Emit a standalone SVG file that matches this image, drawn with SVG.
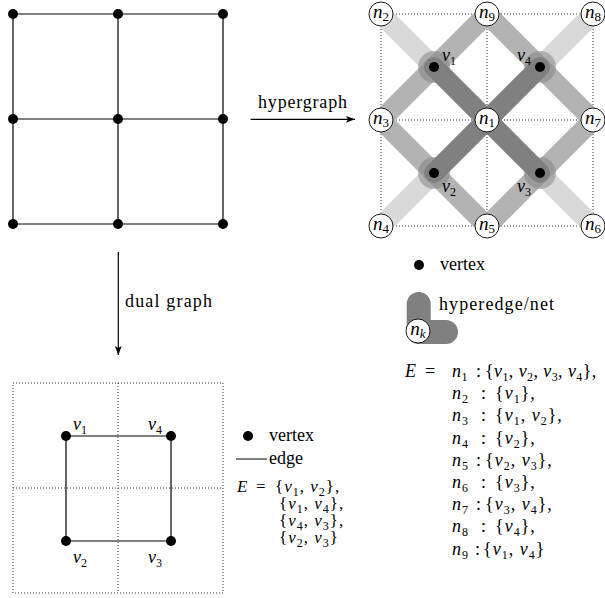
<svg xmlns="http://www.w3.org/2000/svg" width="605" height="598" viewBox="0 0 605 598">
<style>
.t{font-family:"Liberation Serif","Times New Roman",serif;font-size:18px;fill:#000}
.m{font-family:"Liberation Serif","Times New Roman",serif;font-size:18px;fill:#000;letter-spacing:1px}
.md{font-family:"Liberation Serif","Times New Roman",serif;font-size:17px;fill:#000;letter-spacing:1px}
.nl{font-family:"Liberation Serif","Times New Roman",serif;font-size:19px;fill:#000}
.i{font-style:italic}
.s{font-size:12px}
.s13{font-size:13px}
.dot{fill:#000}
.edge{stroke:#000;stroke-width:1.2;fill:none}
.dotted{stroke:#000;stroke-width:0.8;stroke-dasharray:1 2;fill:none}
.band{fill:none;stroke-width:20;stroke-linecap:round;stroke-linejoin:round}
.light{stroke:#d9d9d9}
.med{stroke:#b3b3b3}
.dark{stroke:#808080}
.halo{fill:#808080;fill-opacity:0.5}
.nc{fill:#fff;stroke:#000;stroke-width:0.9}
.arrow{stroke:#000;stroke-width:1.2;fill:none;marker-end:url(#ah)}
</style>
<defs>
<marker id="ah" markerWidth="10" markerHeight="8" refX="9" refY="4" orient="auto" markerUnits="userSpaceOnUse">
<path d="M0,0.6 L9,4 L0,7.4 L2,4 Z" fill="#000"/>
</marker>
</defs>

<!-- ===== Top-left grid graph ===== -->
<g id="grid-edges" class="connectors">
<path class="edge" d="M13,14 H223 M13,119 H223 M13,224 H223 M13,14 V224 M118,14 V224 M223,14 V224"/>
</g>
<g id="g11"><circle class="dot" cx="13" cy="14" r="5"/></g>
<g id="g12"><circle class="dot" cx="118" cy="14" r="5"/></g>
<g id="g13"><circle class="dot" cx="223" cy="14" r="5"/></g>
<g id="g21"><circle class="dot" cx="13" cy="119" r="5"/></g>
<g id="g22"><circle class="dot" cx="118" cy="119" r="5"/></g>
<g id="g23"><circle class="dot" cx="223" cy="119" r="5"/></g>
<g id="g31"><circle class="dot" cx="13" cy="224" r="5"/></g>
<g id="g32"><circle class="dot" cx="118" cy="224" r="5"/></g>
<g id="g33"><circle class="dot" cx="223" cy="224" r="5"/></g>

<!-- ===== Arrows ===== -->
<g id="arrows" class="connectors">
<line class="arrow" x1="250.7" y1="119.3" x2="355" y2="119.3"/>
<line class="arrow" x1="118.3" y1="252" x2="118.3" y2="355"/>
</g>
<text class="t" x="302.5" y="108" text-anchor="middle" textLength="89">hypergraph</text>
<text class="t" x="125" y="307" textLength="87">dual graph</text>

<!-- ===== Hypergraph ===== -->
<g id="hg-grid">
<path class="dotted" d="M381,14 H593 M381,120 H593 M381,226 H593 M381,14 V226 M487,14 V226 M593,14 V226"/>
</g>
<g id="hyperedges" class="connectors">
<path class="band light" d="M381,14 L434,67"/>
<path class="band light" d="M593,14 L540,67"/>
<path class="band light" d="M381,226 L434,173"/>
<path class="band light" d="M593,226 L540,173"/>
<path class="band med" d="M434,67 L381,120 L434,173"/>
<path class="band med" d="M434,67 L487,14 L540,67"/>
<path class="band med" d="M540,67 L593,120 L540,173"/>
<path class="band med" d="M434,173 L487,226 L540,173"/>
<path class="band dark" d="M434,67 L540,173 M540,67 L434,173"/>
</g>
<g id="v1"><circle class="halo" cx="434" cy="67" r="16"/><circle class="dot" cx="434" cy="67" r="5"/>
<text class="t" x="442" y="61"><tspan class="i">v</tspan><tspan class="s" dy="4">1</tspan></text></g>
<g id="v4"><circle class="halo" cx="540" cy="67" r="16"/><circle class="dot" cx="540" cy="67" r="5"/>
<text class="t" x="517" y="61"><tspan class="i">v</tspan><tspan class="s" dy="4">4</tspan></text></g>
<g id="v2"><circle class="halo" cx="434" cy="173" r="16"/><circle class="dot" cx="434" cy="173" r="5"/>
<text class="t" x="442" y="192"><tspan class="i">v</tspan><tspan class="s" dy="4">2</tspan></text></g>
<g id="v3"><circle class="halo" cx="540" cy="173" r="16"/><circle class="dot" cx="540" cy="173" r="5"/>
<text class="t" x="517" y="192"><tspan class="i">v</tspan><tspan class="s" dy="4">3</tspan></text></g>

<g id="n2"><circle class="nc" cx="381" cy="14" r="12"/><text class="nl" x="381" y="18" text-anchor="middle"><tspan class="i">n</tspan><tspan class="s13" dy="3">2</tspan></text></g>
<g id="n9"><circle class="nc" cx="487" cy="14" r="12"/><text class="nl" x="487" y="18" text-anchor="middle"><tspan class="i">n</tspan><tspan class="s13" dy="3">9</tspan></text></g>
<g id="n8"><circle class="nc" cx="593" cy="14" r="12"/><text class="nl" x="593" y="18" text-anchor="middle"><tspan class="i">n</tspan><tspan class="s13" dy="3">8</tspan></text></g>
<g id="n3"><circle class="nc" cx="381" cy="120" r="12"/><text class="nl" x="381" y="124" text-anchor="middle"><tspan class="i">n</tspan><tspan class="s13" dy="3">3</tspan></text></g>
<g id="n1"><circle class="nc" cx="487" cy="120" r="12"/><text class="nl" x="487" y="124" text-anchor="middle"><tspan class="i">n</tspan><tspan class="s13" dy="3">1</tspan></text></g>
<g id="n7"><circle class="nc" cx="593" cy="120" r="12"/><text class="nl" x="593" y="124" text-anchor="middle"><tspan class="i">n</tspan><tspan class="s13" dy="3">7</tspan></text></g>
<g id="n4"><circle class="nc" cx="381" cy="226" r="12"/><text class="nl" x="381" y="230" text-anchor="middle"><tspan class="i">n</tspan><tspan class="s13" dy="3">4</tspan></text></g>
<g id="n5"><circle class="nc" cx="487" cy="226" r="12"/><text class="nl" x="487" y="230" text-anchor="middle"><tspan class="i">n</tspan><tspan class="s13" dy="3">5</tspan></text></g>
<g id="n6"><circle class="nc" cx="593" cy="226" r="12"/><text class="nl" x="593" y="230" text-anchor="middle"><tspan class="i">n</tspan><tspan class="s13" dy="3">6</tspan></text></g>

<!-- ===== Hypergraph legend ===== -->
<g id="legend-hg">
<circle class="dot" cx="419" cy="265" r="5"/>
<text class="t" x="440" y="270">vertex</text>
<path d="M418.7,304 V332 H446" fill="none" stroke="#808080" stroke-width="24" stroke-linecap="round" stroke-linejoin="round"/>
<circle class="nc" cx="418" cy="331" r="12"/>
<text class="nl" x="418" y="335" text-anchor="middle"><tspan class="i">n</tspan><tspan class="s13 i" dy="3">k</tspan></text>
<text class="t" x="439" y="310" textLength="115">hyperedge/net</text>
</g>

<!-- ===== Hypergraph edge set ===== -->
<g id="eset-hg">
<text class="m" y="377"><tspan x="405" class="i">E</tspan><tspan x="425">=</tspan></text>
<text class="m" y="377" style="letter-spacing:0.4px"><tspan x="452" class="i">n</tspan><tspan class="s" dy="4">1</tspan><tspan x="476" dy="-4">:</tspan><tspan x="485">{</tspan><tspan class="i">v</tspan><tspan class="s" dy="4">1</tspan><tspan dy="-4">, </tspan><tspan class="i">v</tspan><tspan class="s" dy="4">2</tspan><tspan dy="-4">, </tspan><tspan class="i">v</tspan><tspan class="s" dy="4">3</tspan><tspan dy="-4">, </tspan><tspan class="i">v</tspan><tspan class="s" dy="4">4</tspan><tspan dy="-4">},</tspan></text>
<text class="m" y="399"><tspan x="452" class="i">n</tspan><tspan class="s" dy="4">2</tspan><tspan x="481" dy="-4">:</tspan><tspan x="495">{</tspan><tspan class="i">v</tspan><tspan class="s" dy="4">1</tspan><tspan dy="-4">},</tspan></text>
<text class="m" y="421"><tspan x="452" class="i">n</tspan><tspan class="s" dy="4">3</tspan><tspan x="481" dy="-4">:</tspan><tspan x="495">{</tspan><tspan class="i">v</tspan><tspan class="s" dy="4">1</tspan><tspan dy="-4">, </tspan><tspan class="i">v</tspan><tspan class="s" dy="4">2</tspan><tspan dy="-4">},</tspan></text>
<text class="m" y="443.5"><tspan x="452" class="i">n</tspan><tspan class="s" dy="4">4</tspan><tspan x="481" dy="-4">:</tspan><tspan x="495">{</tspan><tspan class="i">v</tspan><tspan class="s" dy="4">2</tspan><tspan dy="-4">},</tspan></text>
<text class="m" y="466"><tspan x="452" class="i">n</tspan><tspan class="s" dy="4">5</tspan><tspan x="476" dy="-4">:</tspan><tspan x="485">{</tspan><tspan class="i">v</tspan><tspan class="s" dy="4">2</tspan><tspan dy="-4">, </tspan><tspan class="i">v</tspan><tspan class="s" dy="4">3</tspan><tspan dy="-4">},</tspan></text>
<text class="m" y="488"><tspan x="452" class="i">n</tspan><tspan class="s" dy="4">6</tspan><tspan x="481" dy="-4">:</tspan><tspan x="495">{</tspan><tspan class="i">v</tspan><tspan class="s" dy="4">3</tspan><tspan dy="-4">},</tspan></text>
<text class="m" y="510"><tspan x="452" class="i">n</tspan><tspan class="s" dy="4">7</tspan><tspan x="476" dy="-4">:</tspan><tspan x="485">{</tspan><tspan class="i">v</tspan><tspan class="s" dy="4">3</tspan><tspan dy="-4">, </tspan><tspan class="i">v</tspan><tspan class="s" dy="4">4</tspan><tspan dy="-4">},</tspan></text>
<text class="m" y="532"><tspan x="452" class="i">n</tspan><tspan class="s" dy="4">8</tspan><tspan x="481" dy="-4">:</tspan><tspan x="495">{</tspan><tspan class="i">v</tspan><tspan class="s" dy="4">4</tspan><tspan dy="-4">},</tspan></text>
<text class="m" y="554.5"><tspan x="452" class="i">n</tspan><tspan class="s" dy="4">9</tspan><tspan x="475" dy="-4">:</tspan><tspan x="483">{</tspan><tspan class="i">v</tspan><tspan class="s" dy="4">1</tspan><tspan dy="-4">, </tspan><tspan class="i">v</tspan><tspan class="s" dy="4">4</tspan><tspan dy="-4">}</tspan></text>
</g>

<!-- ===== Dual graph ===== -->
<g id="dual-grid">
<path class="dotted" d="M13,383 H223 V593 H13 Z M118,383 V593 M13,488 H223"/>
</g>
<g id="dual-edges" class="connectors">
<path class="edge" d="M66,436 H171 V541 H66 Z"/>
</g>
<g id="d-v1"><circle class="dot" cx="66" cy="436" r="5"/><text class="t" x="73" y="430"><tspan class="i">v</tspan><tspan class="s" dy="4">1</tspan></text></g>
<g id="d-v4"><circle class="dot" cx="171" cy="436" r="5"/><text class="t" x="148" y="430"><tspan class="i">v</tspan><tspan class="s" dy="4">4</tspan></text></g>
<g id="d-v2"><circle class="dot" cx="66" cy="541" r="5"/><text class="t" x="73" y="563"><tspan class="i">v</tspan><tspan class="s" dy="4">2</tspan></text></g>
<g id="d-v3"><circle class="dot" cx="171" cy="541" r="5"/><text class="t" x="148" y="563"><tspan class="i">v</tspan><tspan class="s" dy="4">3</tspan></text></g>

<!-- ===== Dual legend ===== -->
<g id="legend-dual">
<circle class="dot" cx="248" cy="436" r="5"/>
<text class="t" x="269" y="441">vertex</text>
<line x1="236" y1="459" x2="267" y2="459" stroke="#000" stroke-width="1"/>
<text class="t" x="269" y="464">edge</text>
</g>
<g id="eset-dual">
<text class="md" y="492"><tspan x="237" class="i">E</tspan><tspan x="256">=</tspan></text>
<text class="md" y="492"><tspan x="275">{</tspan><tspan class="i">v</tspan><tspan class="s" dy="4">1</tspan><tspan dy="-4">, </tspan><tspan class="i">v</tspan><tspan class="s" dy="4">2</tspan><tspan dy="-4">},</tspan></text>
<text class="md" y="509"><tspan x="279">{</tspan><tspan class="i">v</tspan><tspan class="s" dy="4">1</tspan><tspan dy="-4">, </tspan><tspan class="i">v</tspan><tspan class="s" dy="4">4</tspan><tspan dy="-4">},</tspan></text>
<text class="md" y="526"><tspan x="279">{</tspan><tspan class="i">v</tspan><tspan class="s" dy="4">4</tspan><tspan dy="-4">, </tspan><tspan class="i">v</tspan><tspan class="s" dy="4">3</tspan><tspan dy="-4">},</tspan></text>
<text class="md" y="543"><tspan x="279">{</tspan><tspan class="i">v</tspan><tspan class="s" dy="4">2</tspan><tspan dy="-4">, </tspan><tspan class="i">v</tspan><tspan class="s" dy="4">3</tspan><tspan dy="-4">}</tspan></text>
</g>
</svg>
